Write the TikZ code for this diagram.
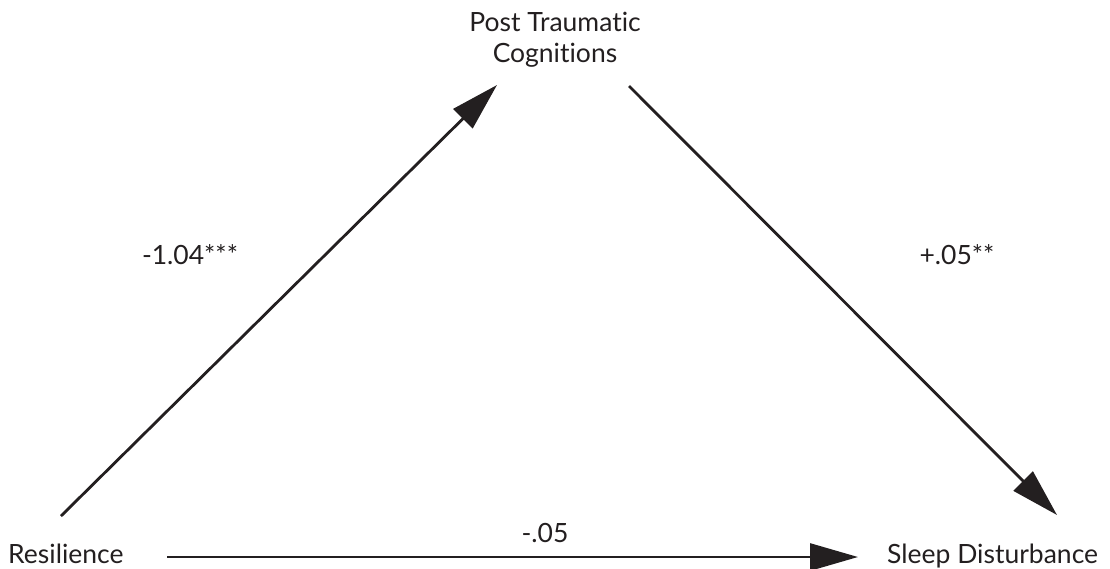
\documentclass[tikz,border=0pt]{standalone}
\usepackage{fontspec}
\setmainfont{Lato}[Ligatures=NoCommon]
\usepackage{tikz}
\usetikzlibrary{positioning, arrows.meta}
\definecolor{ink}{HTML}{231F20}

\begin{document}
\begin{tikzpicture}[x=1pt, y=-1pt,
    every node/.style={font=\fontsize{26.5}{31}\selectfont, text=ink, inner sep=0pt},
    path/.style={draw=ink, line width=2.8pt, -{Triangle[length=48pt, width=27pt]}}]
    \useasboundingbox (0,0) rectangle (1110,568);
    % Variables
    \node[anchor=north, align=center] (ptc) at (555,12) {Post Traumatic\\Cognitions};
    \node[anchor=base west] (res) at (8,563) {Resilience};
    \node[anchor=base west] (sleep) at (887,563) {Sleep Disturbance};
    % Arrow ends
    \coordinate (a1) at (61,516);
    \coordinate (a2) at (497,85);
    \coordinate (b1) at (629,86);
    \coordinate (b2) at (1057,515);
    \coordinate (c1) at (167,557);
    \coordinate (c2) at (858,557);
    \draw[path] (a1) -- (a2);
    \draw[path] (b1) -- (b2);
    \draw[path] (c1) -- (c2);
    % Coefficients
    \node (ab) at (190,255) {-1.04***};
    \node (bc) at (957,255) {+.05**};
    \node (ac) at (545,533) {-.05};
\end{tikzpicture}
\end{document}
